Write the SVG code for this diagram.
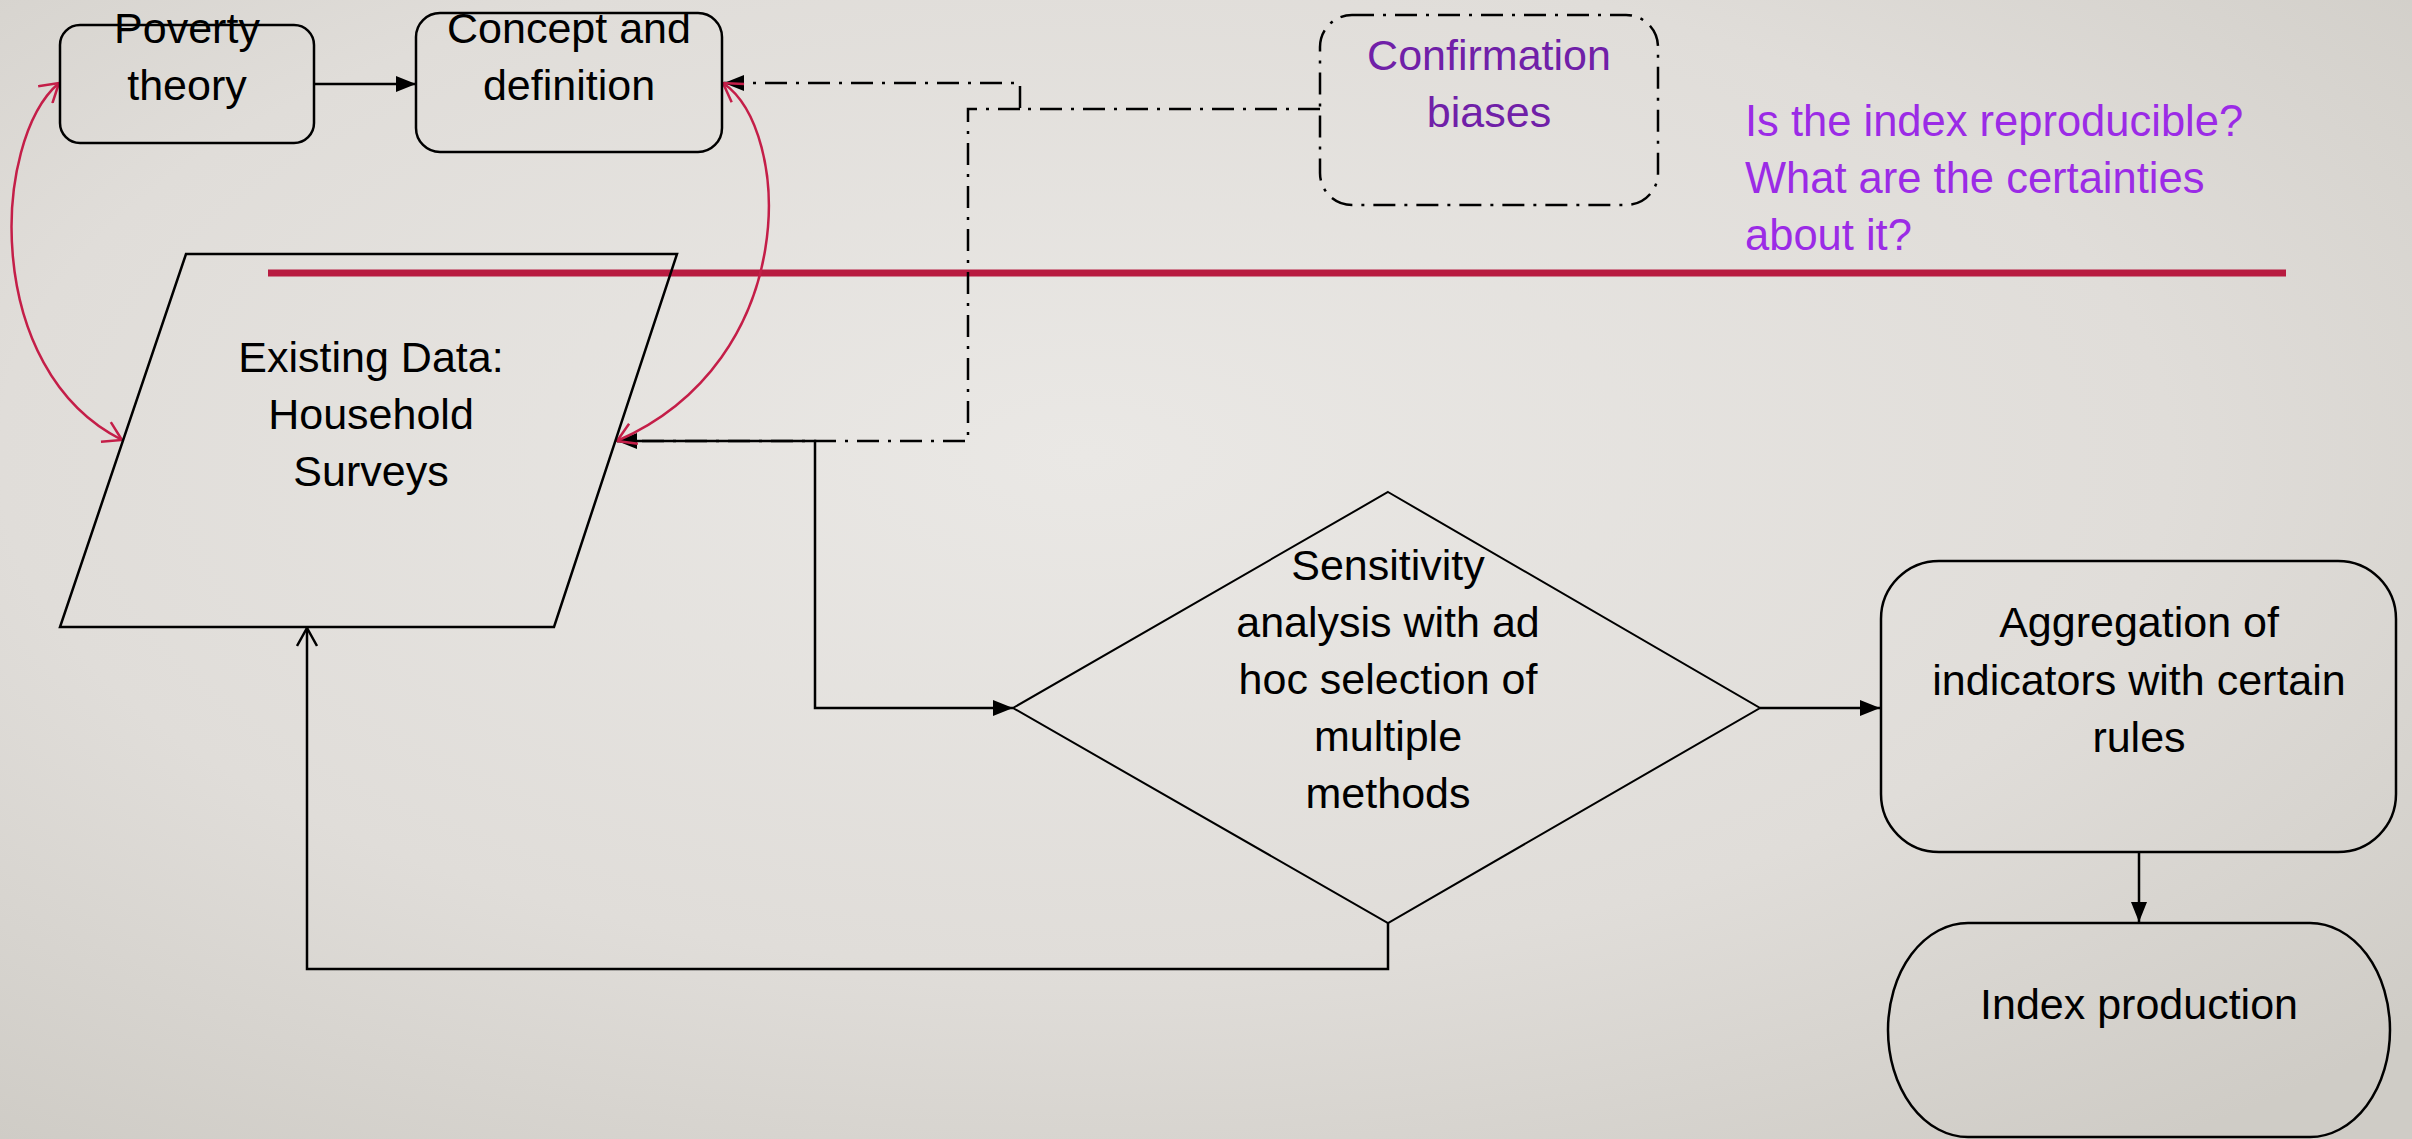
<svg xmlns="http://www.w3.org/2000/svg" width="2412" height="1139" viewBox="0 0 2412 1139">
<defs>
<radialGradient id="bg" cx="0.45" cy="0.4" r="0.75">
<stop offset="0" stop-color="#eae8e5"/>
<stop offset="0.6" stop-color="#e0ddd9"/>
<stop offset="1" stop-color="#cfccc6"/>
</radialGradient>
<marker id="fa" viewBox="0 0 20 16" refX="20" refY="8" markerWidth="20" markerHeight="16" markerUnits="userSpaceOnUse" orient="auto-start-reverse">
<path d="M0 0 L20 8 L0 16 Z" fill="#000"/>
</marker>
<marker id="oa" viewBox="0 0 20 22" refX="19" refY="11" markerWidth="20" markerHeight="22" markerUnits="userSpaceOnUse" orient="auto">
<path d="M1 1 L19 11 L1 21" fill="none" stroke="#000" stroke-width="2.5"/>
</marker>
<marker id="ra" viewBox="0 0 20 24" refX="19" refY="12" markerWidth="20" markerHeight="24" markerUnits="userSpaceOnUse" orient="auto-start-reverse">
<path d="M1 1 L19 12 L1 23" fill="none" stroke="#c41e48" stroke-width="2.5"/>
</marker>
</defs>
<style>
.box{fill:none;stroke:#000;stroke-width:2.5}
.t{font-family:"Liberation Sans",Arial,sans-serif;font-size:43px;fill:#000;text-anchor:middle}
.ln{fill:none;stroke:#000;stroke-width:2.5}
.dd{fill:none;stroke:#000;stroke-width:2.5;stroke-dasharray:22 9 3 9}
.red{fill:none;stroke:#c41e48;stroke-width:2.5}
</style>
<rect x="0" y="0" width="2412" height="1139" fill="url(#bg)"/>

<g id="divider">
<line x1="268" y1="273" x2="2286" y2="273" stroke="#b81b40" stroke-width="7"/>
</g>

<g id="connectors">
<line class="ln" x1="314" y1="84" x2="416" y2="84" marker-end="url(#fa)"/>
<path class="dd" d="M1320 109 H1020 V83 H724" marker-end="url(#fa)"/>
<path class="dd" d="M1020 109 H968 V441 H617"/>
<path class="ln" d="M617 441 H815 V708 H1013" marker-start="url(#fa)" marker-end="url(#fa)"/>
<path class="ln" d="M1388 923 V969 H307 V628" marker-end="url(#oa)"/>
<line class="ln" x1="1760" y1="708" x2="1880" y2="708" marker-end="url(#fa)"/>
<line class="ln" x1="2139" y1="852" x2="2139" y2="922" marker-end="url(#fa)"/>
<path class="red" d="M59 83 C -8 140, -18 370, 122 440" marker-start="url(#ra)" marker-end="url(#ra)"/>
<path class="red" d="M723 83 C 792 130, 802 360, 617 441" marker-start="url(#ra)" marker-end="url(#ra)"/>
</g>

<g id="poverty-theory">
<rect class="box" x="60" y="25" width="254" height="118" rx="20"/>
<text class="t" x="187" y="43">Poverty</text>
<text class="t" x="187" y="100">theory</text>
</g>

<g id="concept-definition">
<rect class="box" x="416" y="13" width="306" height="139" rx="24"/>
<text class="t" x="569" y="43">Concept and</text>
<text class="t" x="569" y="100">definition</text>
</g>

<g id="confirmation-biases">
<rect class="dd" x="1320" y="15" width="338" height="190" rx="32"/>
<text class="t" x="1489" y="70" style="fill:#7020a8">Confirmation</text>
<text class="t" x="1489" y="127" style="fill:#7020a8">biases</text>
</g>

<g id="question">
<text x="1745" y="136" font-family="Liberation Sans, Arial, sans-serif" font-size="43.5" fill="#9b2be6">Is the index reproducible?</text>
<text x="1745" y="193" font-family="Liberation Sans, Arial, sans-serif" font-size="43.5" fill="#9b2be6">What are the certainties</text>
<text x="1745" y="250" font-family="Liberation Sans, Arial, sans-serif" font-size="43.5" fill="#9b2be6">about it?</text>
</g>

<g id="household-surveys">
<polygon class="box" points="186,254 677,254 554,627 60,627"/>
<text class="t" x="371" y="372">Existing Data:</text>
<text class="t" x="371" y="429">Household</text>
<text class="t" x="371" y="486">Surveys</text>
</g>

<g id="sensitivity-analysis">
<polygon class="box" points="1388,492 1760,708 1388,923 1013,708" style="stroke-width:2"/>
<text class="t" x="1388" y="580">Sensitivity</text>
<text class="t" x="1388" y="637">analysis with ad</text>
<text class="t" x="1388" y="694">hoc selection of</text>
<text class="t" x="1388" y="751">multiple</text>
<text class="t" x="1388" y="808">methods</text>
</g>

<g id="aggregation">
<rect class="box" x="1881" y="561" width="515" height="291" rx="58"/>
<text class="t" x="2139" y="637">Aggregation of</text>
<text class="t" x="2139" y="695">indicators with certain</text>
<text class="t" x="2139" y="752">rules</text>
</g>

<g id="index-production">
<rect class="box" x="1888" y="923" width="502" height="214" rx="80" ry="107"/>
<text class="t" x="2139" y="1019">Index production</text>
</g>
</svg>
